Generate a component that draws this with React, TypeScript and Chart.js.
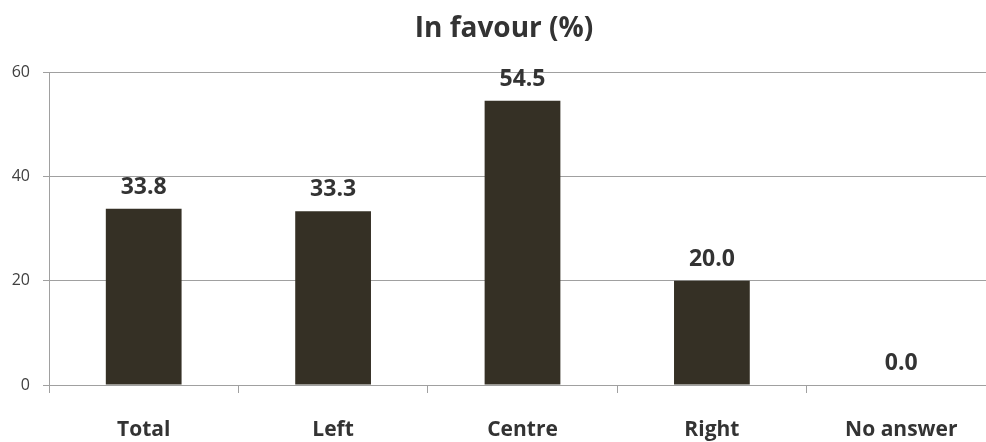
import React, { useEffect, useRef } from "react";
import { Chart, registerables } from "chart.js";

Chart.register(...registerables);

const categories = ["Total", "Left", "Centre", "Right", "No answer"];
const inFavour = [33.8, 33.3, 54.5, 20.0, 0.0];
const yTicks = [0, 20, 40, 60];
const titleText = "In favour (%)";

const BAR = "#353025";
const GRID = "#a0a0a0";
const TEXT = "#333333";
const FONT = "'Open Sans', 'Noto Sans', sans-serif";

const valueLabels = {
  id: "valueLabels",
  afterDatasetsDraw(chart: any) {
    const ctx = chart.ctx;
    const meta = chart.getDatasetMeta(0);
    ctx.save();
    ctx.font = `bold 23px ${FONT}`;
    ctx.fillStyle = TEXT;
    ctx.textAlign = "center";
    ctx.textBaseline = "alphabetic";
    meta.data.forEach((bar: any, i: number) => {
      const v = chart.data.datasets[0].data[i] as number;
      ctx.fillText(v.toFixed(1), bar.x, bar.y - 15);
    });
    ctx.restore();
  },
};

export default function App() {
  const ref = useRef<HTMLCanvasElement | null>(null);
  useEffect(() => {
    if (!ref.current) return;
    const chart = new Chart(ref.current, {
      type: "bar",
      data: {
        labels: categories,
        datasets: [
          {
            data: inFavour,
            backgroundColor: BAR,
            borderWidth: 0,
            barPercentage: 0.4,
            categoryPercentage: 1.0,
          },
        ],
      },
      options: {
        responsive: false,
        animation: false,
        devicePixelRatio: 1,
        layout: { padding: { left: 12, right: 4, top: 0, bottom: 0 } },
        plugins: {
          legend: { display: false },
          tooltip: { enabled: false },
          title: {
            display: true,
            text: titleText,
            color: TEXT,
            font: { family: FONT, size: 28, weight: "bold", lineHeight: 1.2 },
            padding: { top: 12, bottom: 26.4 },
          },
        },
        scales: {
          x: {
            offset: true,
            grid: {
              display: true,
              offset: true,
              drawOnChartArea: false,
              drawTicks: true,
              tickLength: 8,
              color: GRID,
            },
            border: { display: true, color: GRID },
            ticks: {
              color: TEXT,
              padding: 24,
              font: { family: FONT, size: 21, weight: "bold" },
              maxRotation: 0,
              autoSkip: false,
            },
            afterFit(scale: any) {
              scale.height = 57;
            },
          },
          y: {
            min: 0,
            max: 60,
            afterBuildTicks(scale: any) {
              scale.ticks = yTicks.map((v) => ({ value: v }));
            },
            grid: { color: GRID, tickLength: 6, drawTicks: true },
            border: { display: true, color: GRID },
            ticks: {
              color: "#404040",
              padding: 13,
              font: { family: FONT, size: 16 },
            },
            afterFit(scale: any) {
              scale.width = 37;
            },
          },
        },
      },
      plugins: [valueLabels],
    });
    return () => chart.destroy();
  }, []);

  return (
    <div
      style={{
        position: "fixed",
        left: 0,
        top: 0,
        width: 986,
        height: 442,
        overflow: "hidden",
        background: "#fff",
      }}
    >
      <canvas ref={ref} width={1000} height={442} style={{ display: "block" }} />
    </div>
  );
}
